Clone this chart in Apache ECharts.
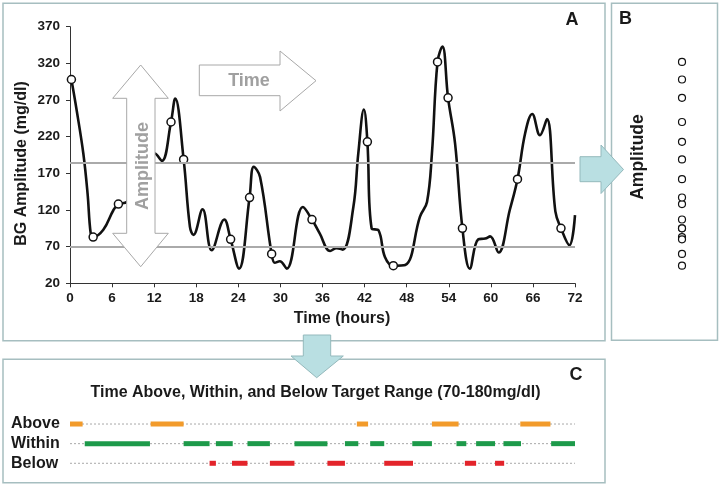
<!DOCTYPE html>
<html>
<head>
<meta charset="utf-8">
<script src="https://cdn.jsdelivr.net/npm/echarts@6/dist/echarts.min.js"></script>
<style>
html,body{margin:0;padding:0;background:#fff;}
#chart{width:719px;height:486px;}
</style>
</head>
<body>
<div id="chart"></div>
<script>
// ---- Data ----
const curveTime = [0.2,0.95,1.9,2.5,2.95,3.3,4.75,6.2,6.9,8.1,10.1,12.1,13.1,14.4,15.0,16.2,17.1,17.6,18.9,20.2,22.0,22.9,24.1,25.6,26.2,27.1,28.75,29.2,29.9,30.9,33.2,34.5,35.6,37.1,38.0,38.9,40.4,41.1,41.9,42.4,43.0,44.0,44.9,46.1,47.8,49.9,50.9,51.6,52.4,53.1,53.9,54.9,55.95,57.0,58.2,59.2,59.9,61.1,62.7,63.8,64.9,65.9,67.0,68.0,69.2,70.0,71.2,72.0];
const curveBG   = [298,256,197,143,88,83,93,120,128,131,165,197,187,240,272,189,97,86,121,65,107,80,40,137,179,165,60,48,50,40,124,107,88,64,68,66,124,197,257,213,95,92,56,44,45,111,131,197,322,343,273,211,95,40,80,81,84,62,120,162,225,251,222,244,118,95,72,113];
const sampleTime = [0.2,3.3,6.9,14.4,16.2,22.9,25.6,28.75,34.5,42.4,46.1,52.4,53.9,55.95,63.8,70.0];
const sampleBG   = [298,83,128,240,189,80,137,60,107,213,44,322,273,95,162,95];
const targetLines = [70, 184];
const yTicks = {min: 20, max: 370, step: 50};
const xTicks = {min: 0, max: 72, step: 6};
const rangeRows = ['Below', 'Within', 'Above'];
const aboveSegs  = [[0,1.8],[11.5,16.2],[40.9,42.5],[51.6,55.4],[64.2,68.5]];
const withinSegs = [[2.1,11.4],[16.2,19.9],[20.8,23.2],[25.3,28.5],[32.0,36.7],[39.2,41.1],[42.8,44.8],[48.8,51.6],[55.1,56.5],[57.9,60.6],[61.8,64.3],[68.6,72]];
const belowSegs  = [[19.9,20.8],[23.1,25.3],[28.5,32.0],[36.7,39.2],[44.8,48.9],[56.3,57.9],[60.6,61.9]];

// ---- Build ----
const FONT = "'Liberation Sans', Arial, Helvetica, sans-serif";
const TXT = '#1a1a1a';
const curveData = curveTime.map((t, i) => [t, curveBG[i]]);
const sampleData = sampleTime.map((t, i) => [t, sampleBG[i]]);
const ampData = sampleBG.map(v => [0, v]);

function segSeries(name, segs, rowIdx, color) {
  return {
    type: 'custom', name: name, xAxisIndex: 1, yAxisIndex: 1,
    data: segs.map(s => [s[0], s[1], rowIdx]),
    encode: {x: [0, 1], y: 2},
    renderItem: function (params, api) {
      const a = api.coord([api.value(0), api.value(2)]);
      const b = api.coord([api.value(1), api.value(2)]);
      return {type: 'rect', shape: {x: a[0], y: a[1] - 2.5, width: b[0] - a[0], height: 5}, style: {fill: color}};
    },
    z: 5
  };
}
function dashRow(row) {
  return {
    type: 'line', xAxisIndex: 1, yAxisIndex: 1, symbol: 'none', silent: true,
    data: [[0, row], [72, row]],
    lineStyle: {color: '#a9a9a9', width: 1, type: [2, 2]}, z: 2
  };
}

const border = '#a6bec0';
const cyanFill = '#b9dfe2', cyanStroke = '#94b9bc';
const arrowStroke = '#a8a8a8';

const chart = echarts.init(document.getElementById('chart'), null, {renderer: 'canvas'});
chart.setOption({
  animation: false,
  backgroundColor: '#fff',
  textStyle: {fontFamily: FONT},
  grid: [
    {left: 70, top: 26.7, width: 505, height: 256.6, outerBoundsMode: 'none'},
    {left: 70, top: 414.2, width: 505, height: 58.9, outerBoundsMode: 'none'},
    {left: 672, top: 26.7, width: 20, height: 256.6, outerBoundsMode: 'none'}
  ],
  xAxis: [
    {type: 'value', gridIndex: 0, min: xTicks.min, max: xTicks.max, interval: xTicks.step,
     axisLine: {lineStyle: {color: '#333', width: 1}}, axisTick: {length: 4, lineStyle: {color: '#333'}},
     splitLine: {show: false},
     axisLabel: {color: TXT, fontWeight: 'bold', fontSize: 13.5, fontFamily: FONT, margin: 8}},
    {type: 'value', gridIndex: 1, min: 0, max: 72, show: false},
    {type: 'value', gridIndex: 2, min: -1, max: 1, show: false}
  ],
  yAxis: [
    {type: 'value', gridIndex: 0, min: yTicks.min, max: yTicks.max, interval: yTicks.step,
     axisLine: {show: true, lineStyle: {color: '#333', width: 1}}, axisTick: {show: true, length: 4, lineStyle: {color: '#333'}},
     splitLine: {show: false},
     axisLabel: {color: TXT, fontWeight: 'bold', fontSize: 13.5, fontFamily: FONT, margin: 10}},
    {type: 'category', gridIndex: 1, data: rangeRows,
     axisLine: {show: false}, axisTick: {show: false}, splitLine: {show: false},
     axisLabel: {interval: 0, hideOverlap: false, color: TXT, fontWeight: 'bold', fontSize: 16, fontFamily: FONT, align: 'left', margin: 59}},
    {type: 'value', gridIndex: 2, min: yTicks.min, max: yTicks.max, show: false}
  ],
  series: [
    {type: 'line', xAxisIndex: 0, yAxisIndex: 0, data: curveData, smooth: 0.4, symbol: 'none',
     lineStyle: {color: '#111', width: 2.6}, z: 3,
     markLine: {silent: true, symbol: 'none', label: {show: false},
       lineStyle: {color: '#aaaaaa', width: 2, type: 'solid'},
       data: targetLines.map(v => ({yAxis: v}))}},
    {type: 'scatter', xAxisIndex: 0, yAxisIndex: 0, data: sampleData, symbol: 'circle', symbolSize: 8,
     itemStyle: {color: '#fff', borderColor: '#111', borderWidth: 1.5, opacity: 1}, z: 4},
    {type: 'scatter', xAxisIndex: 2, yAxisIndex: 2, data: ampData, symbol: 'circle', symbolSize: 7,
     itemStyle: {color: '#fff', borderColor: '#111', borderWidth: 1.2, opacity: 1}, z: 4},
    dashRow(0), dashRow(1), dashRow(2),
    segSeries('Above', aboveSegs, 2, '#f29b2b'),
    segSeries('Within', withinSegs, 1, '#1d9a4a'),
    segSeries('Below', belowSegs, 0, '#e3242b')
  ],
  graphic: [
    // panel borders
    {type: 'rect', z: 0, shape: {x: 3, y: 3.3, width: 602, height: 337.5}, style: {fill: 'none', stroke: border, lineWidth: 1.5}},
    {type: 'rect', z: 0, shape: {x: 611.5, y: 3.3, width: 106, height: 337}, style: {fill: 'none', stroke: border, lineWidth: 1.5}},
    {type: 'rect', z: 0, shape: {x: 3, y: 359.3, width: 602, height: 123.5}, style: {fill: 'none', stroke: border, lineWidth: 1.5}},
    // amplitude double arrow (white, covers curve)
    {type: 'polygon', z: 100, shape: {points: [[140.7,65],[168.3,98.3],[155,98.3],[155,233.3],[168.3,233.3],[140.7,266.7],[112.7,233.3],[126.7,233.3],[126.7,98.3],[112.7,98.3]]},
     style: {fill: '#fff', stroke: arrowStroke, lineWidth: 1}},
    {type: 'text', z: 101, x: 143, y: 166, rotation: Math.PI / 2,
     style: {text: 'Amplitude', fill: '#a0a0a0', font: 'bold 18px ' + FONT, align: 'center', verticalAlign: 'middle'}},
    // time arrow
    {type: 'polygon', z: 100, shape: {points: [[199.3,65],[280,65],[280,51],[316,80.7],[280,111],[280,95.7],[199.3,95.7]]},
     style: {fill: '#fff', stroke: arrowStroke, lineWidth: 1}},
    {type: 'text', z: 101, x: 249, y: 81.5,
     style: {text: 'Time', fill: '#a0a0a0', font: 'bold 18px ' + FONT, align: 'center', verticalAlign: 'middle'}},
    // cyan arrows
    {type: 'polygon', z: 100, shape: {points: [[580,156.7],[601,156.7],[601,145],[623.5,169.5],[601,193.5],[601,181.7],[580,181.7]]},
     style: {fill: cyanFill, stroke: cyanStroke, lineWidth: 1}},
    {type: 'polygon', z: 100, shape: {points: [[303.3,335],[330.7,335],[330.7,356],[343.3,356],[316.7,377.7],[291,356],[303.3,356]]},
     style: {fill: cyanFill, stroke: cyanStroke, lineWidth: 1}},
    // axis names
    {type: 'text', z: 50, x: 22, y: 163.5, rotation: Math.PI / 2,
     style: {text: 'BG Amplitude (mg/dl)', fill: TXT, font: 'bold 16px ' + FONT, align: 'center', verticalAlign: 'middle'}},
    {type: 'text', z: 50, x: 342, y: 318.5,
     style: {text: 'Time (hours)', fill: TXT, font: 'bold 16px ' + FONT, align: 'center', verticalAlign: 'middle'}},
    {type: 'text', z: 50, x: 638, y: 157, rotation: Math.PI / 2,
     style: {text: 'Amplitude', fill: TXT, font: 'bold 17.5px ' + FONT, align: 'center', verticalAlign: 'middle'}},
    // panel letters
    {type: 'text', z: 50, x: 572, y: 20.5, style: {text: 'A', fill: TXT, font: 'bold 18px ' + FONT, align: 'center', verticalAlign: 'middle'}},
    {type: 'text', z: 50, x: 625.5, y: 19.5, style: {text: 'B', fill: TXT, font: 'bold 18px ' + FONT, align: 'center', verticalAlign: 'middle'}},
    {type: 'text', z: 50, x: 576, y: 375.5, style: {text: 'C', fill: TXT, font: 'bold 18px ' + FONT, align: 'center', verticalAlign: 'middle'}},
    // panel C title
    {type: 'text', z: 50, x: 315.5, y: 392.5,
     style: {text: 'Time Above, Within, and Below Target Range (70-180mg/dl)', fill: TXT, font: 'bold 16px ' + FONT, align: 'center', verticalAlign: 'middle'}}
  ]
});
</script>
</body>
</html>
